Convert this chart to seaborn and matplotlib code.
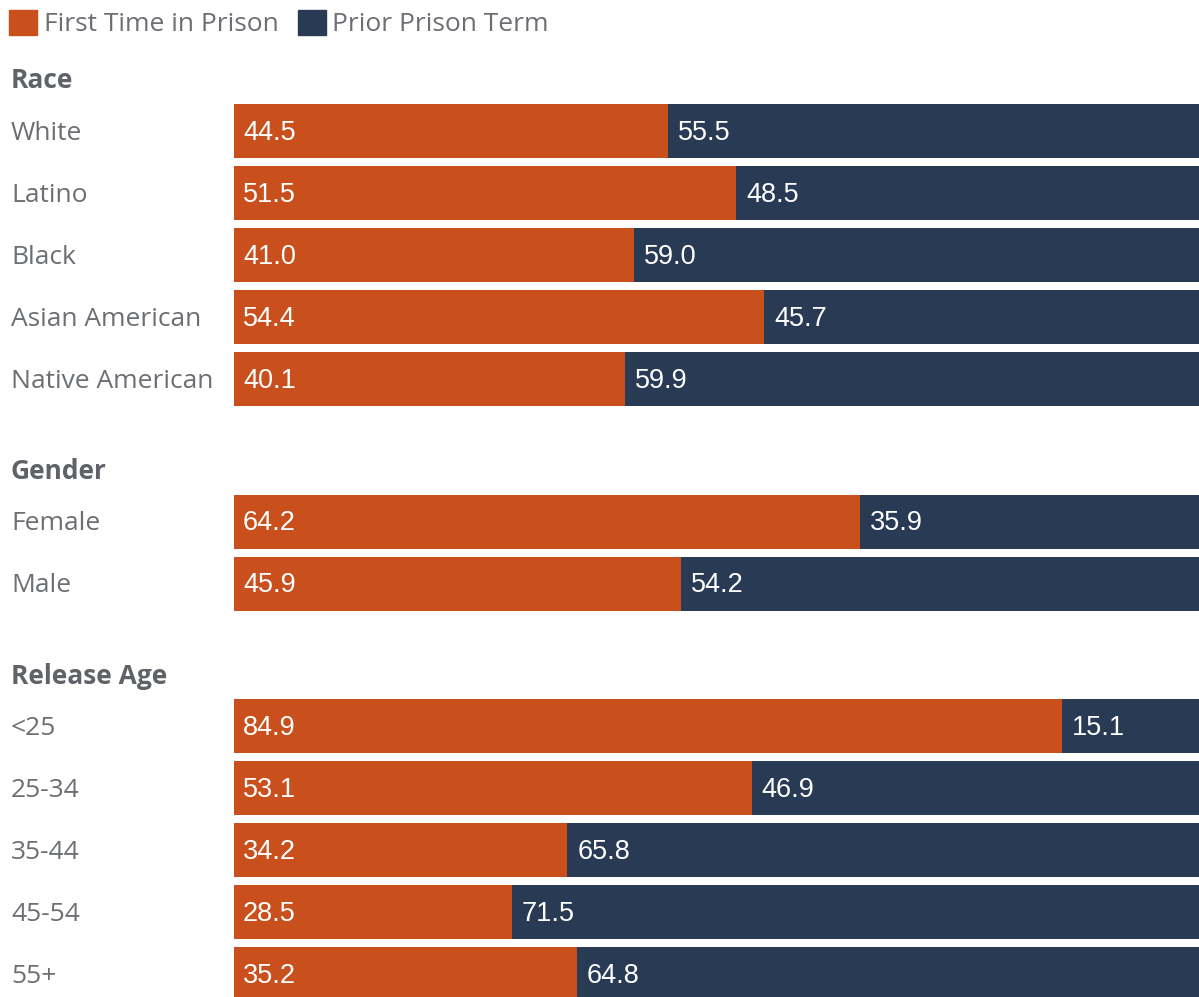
import matplotlib
matplotlib.use("Agg")
import matplotlib.pyplot as plt
import matplotlib.patches as mpatches
import seaborn as sns
import pandas as pd

# ---- data ----
groups = ["Race", "Gender", "Release Age"]
race_labels = ["White", "Latino", "Black", "Asian American", "Native American"]
race_first = [44.5, 51.5, 41.0, 54.4, 40.1]
race_prior = [55.5, 48.5, 59.0, 45.7, 59.9]
gender_labels = ["Female", "Male"]
gender_first = [64.2, 45.9]
gender_prior = [35.9, 54.2]
age_labels = ["<25", "25-34", "35-44", "45-54", "55+"]
age_first = [84.9, 53.1, 34.2, 28.5, 35.2]
age_prior = [15.1, 46.9, 65.8, 71.5, 64.8]
series_names = ["First Time in Prison", "Prior Prison Term"]

ORANGE = "#C9501C"
NAVY = "#293A55"
TEXT = "#6B6E72"
HEAD = "#5F6266"

# ---- layout (row positions computed in code) ----
sections = [
    (groups[0], race_labels, race_first, race_prior),
    (groups[1], gender_labels, gender_first, gender_prior),
    (groups[2], age_labels, age_first, age_prior),
]
rows = []
headers = []
pos = 0.0
for si, (g, labs, fst, pri) in enumerate(sections):
    if si > 0:
        pos += 1.3
    headers.append((g, pos - 0.84))
    for lab, f, p in zip(labs, fst, pri):
        rows.append(dict(label=lab, first=f, prior=p, total=f + p, y=pos))
        pos += 1.0
df = pd.DataFrame(rows)

W, H = 1199, 997
fig = plt.figure(figsize=(W / 100, H / 100), dpi=100)
sns.set_style("white")
plt.rcParams["font.family"] = ["Open Sans", "DejaVu Sans"]

left = 234 / W
ax = fig.add_axes([left, 0, 1 - left, 1])
sns.barplot(data=df, x="total", y="y", orient="h", native_scale=True,
            color=NAVY, saturation=1, width=0.87, ax=ax, linewidth=0)
sns.barplot(data=df, x="first", y="y", orient="h", native_scale=True,
            color=ORANGE, saturation=1, width=0.87, ax=ax, linewidth=0)

px = 62.0
y_first = 131.0
ax.set_ylim((H - y_first) / px, -y_first / px)
ax.set_xlim(0, 99)
ax.axis("off")

unit_per_px = 99 / (W - 234)
for _, r in df.iterrows():
    ax.text(9 * unit_per_px, r["y"] + 0.03, f"{r['first']:.1f}", color="white",
            fontsize=19.5, va="center", ha="left", family="Liberation Sans")
    ax.text(r["first"] + 10 * unit_per_px, r["y"] + 0.03, f"{r['prior']:.1f}",
            color="white", fontsize=19.5, va="center", ha="left",
            family="Liberation Sans")
    fig.text(11 / W, 1 - (y_first + r["y"] * px + 2) / H, r["label"], color=TEXT,
             fontsize=19, va="center", ha="left")
for g, yy in headers:
    fig.text(11 / W, 1 - (y_first + yy * px + 2) / H, g, color=HEAD,
             fontsize=19, fontweight="bold", va="center", ha="left")

handles = [mpatches.Patch(color=ORANGE, label=series_names[0]),
           mpatches.Patch(color=NAVY, label=series_names[1])]
leg = fig.legend(handles=handles, loc="upper left", bbox_to_anchor=(0.0, 0.999),
                 ncol=2, frameon=False, fontsize=19, handlelength=1.05,
                 handleheight=1.05, handletextpad=0.25, columnspacing=0.75,
                 borderaxespad=0.1, borderpad=0.25)
for t in leg.get_texts():
    t.set_color(TEXT)

fig.savefig("out.png", dpi=100)
